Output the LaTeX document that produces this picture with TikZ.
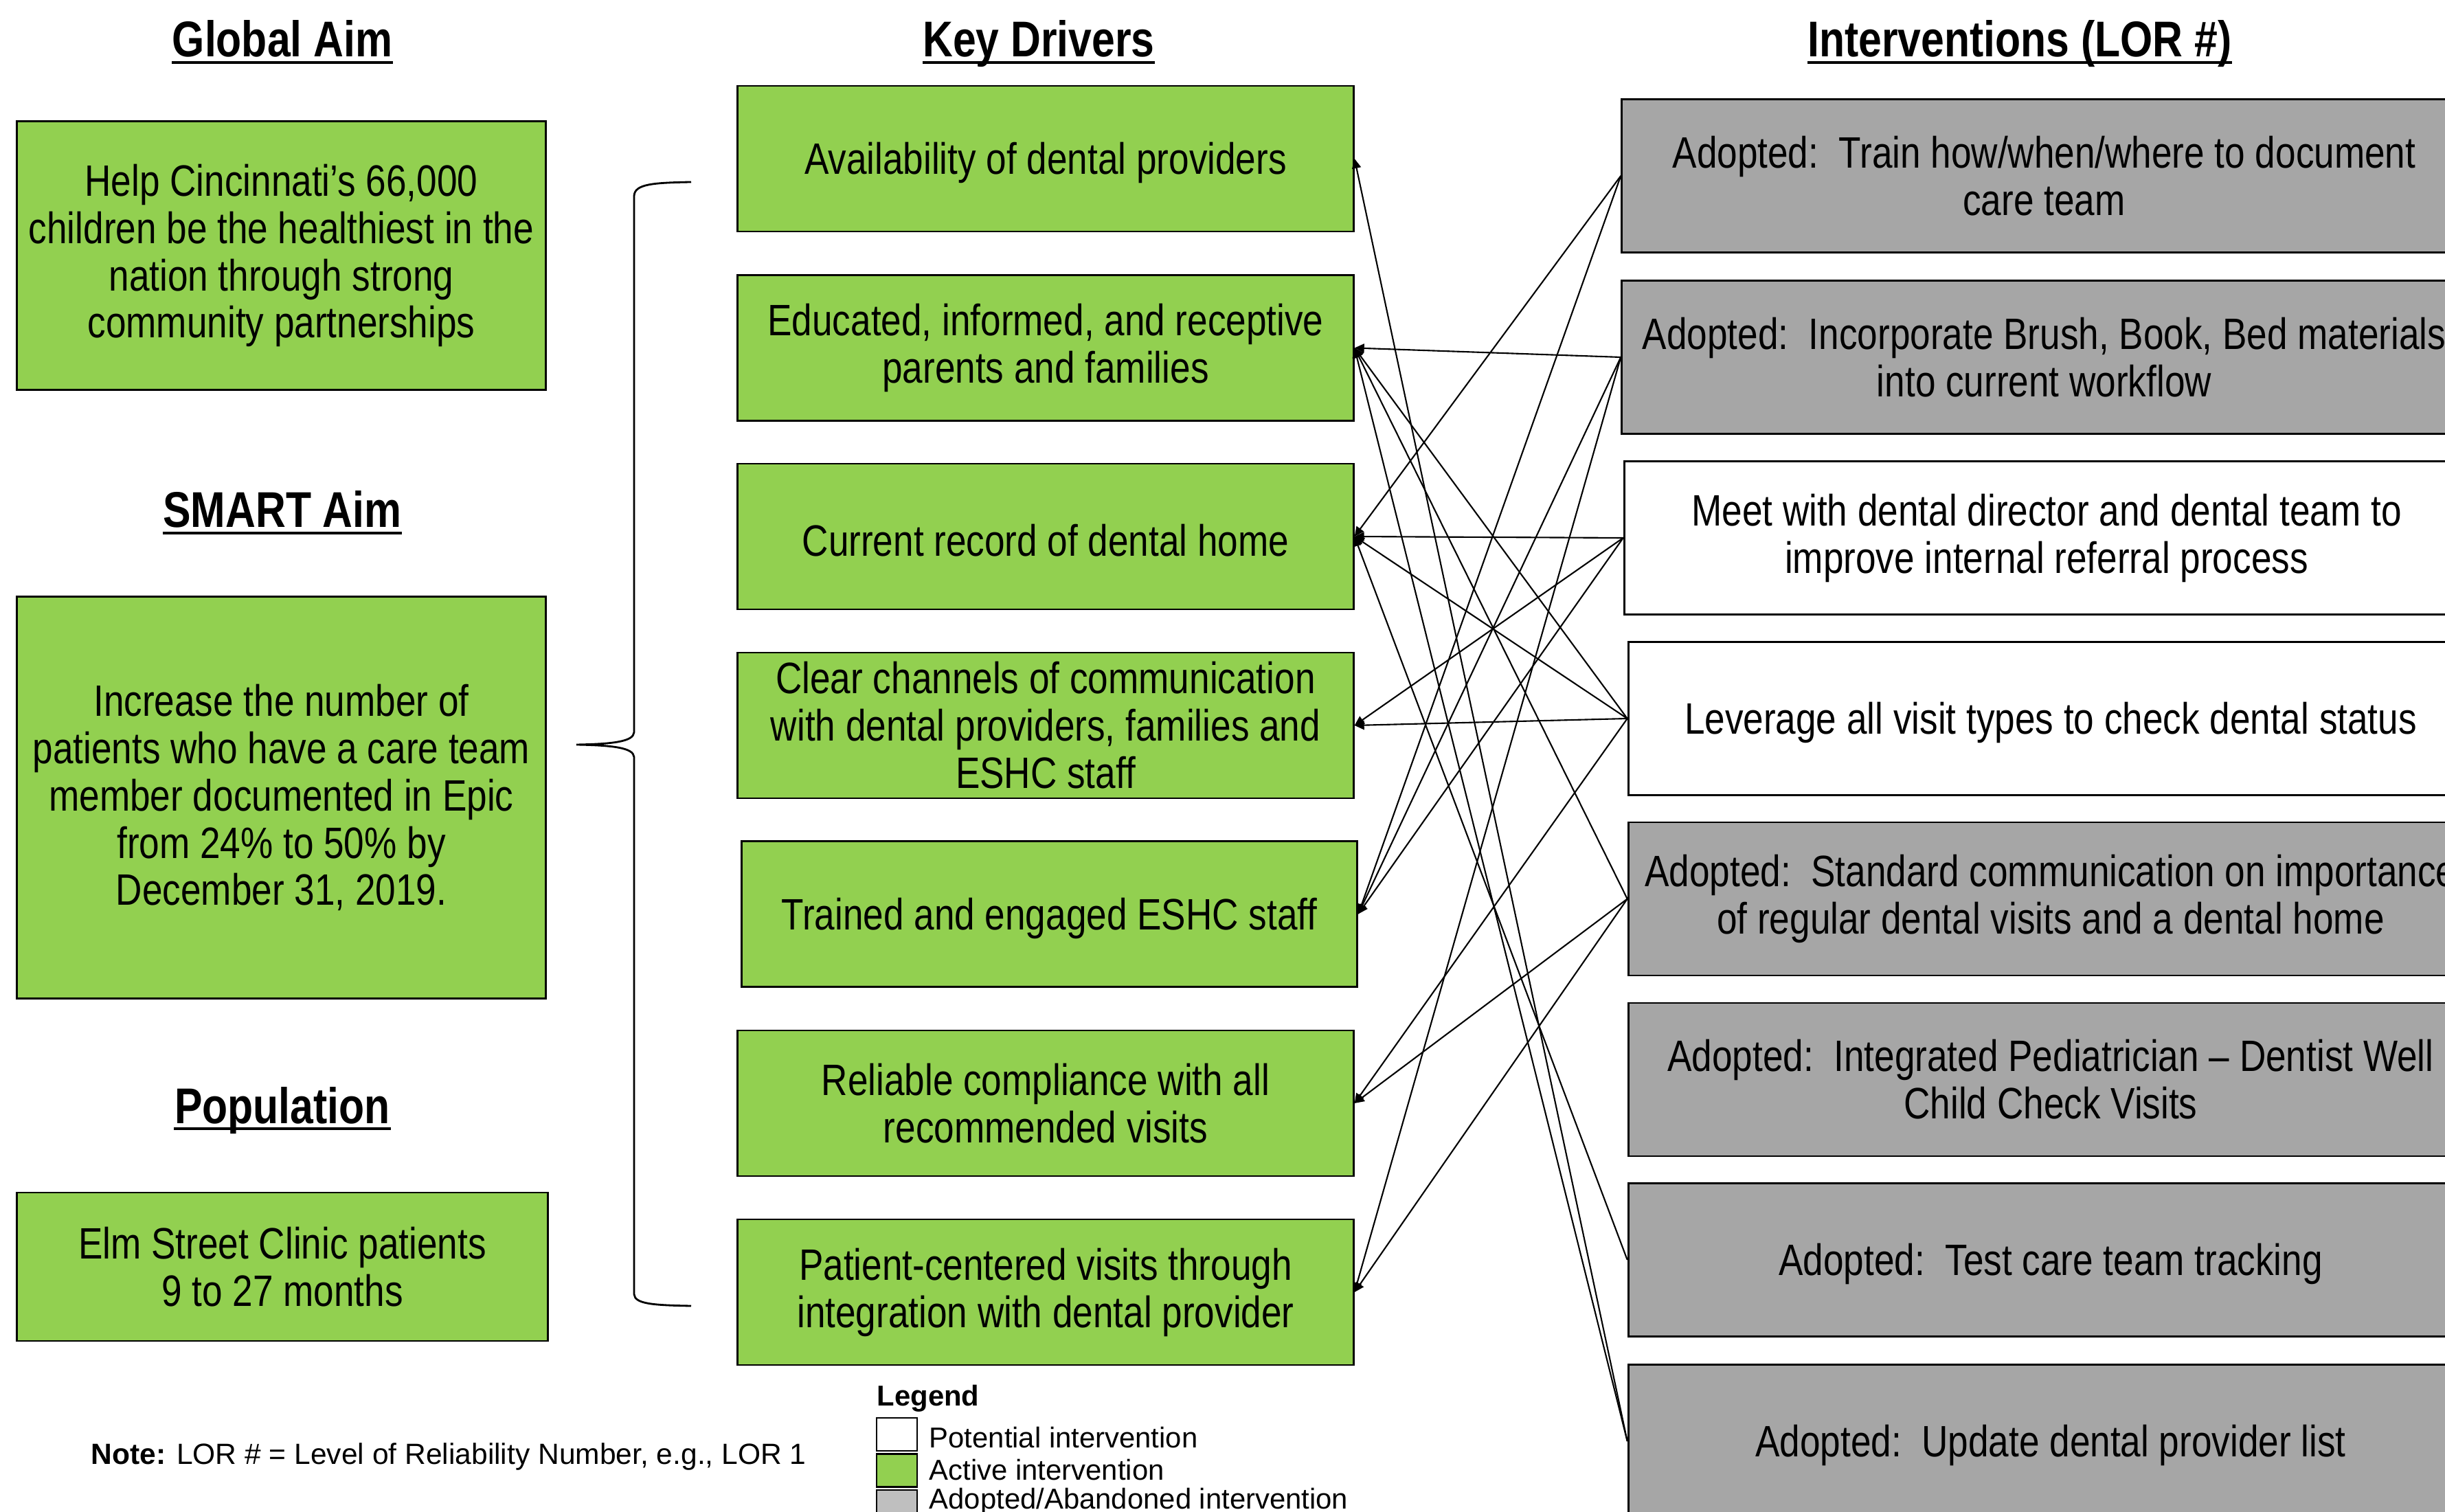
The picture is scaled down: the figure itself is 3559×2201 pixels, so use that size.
\documentclass[tikz,border=0pt]{standalone}
\usepackage{fontspec}
\setmainfont{Liberation Sans}
\newfontfamily\narrowfont{Liberation Sans}[FakeStretch=0.83]
\usetikzlibrary{arrows.meta}
\definecolor{kgreen}{HTML}{92D050}
\definecolor{kgray}{HTML}{A6A6A6}
\definecolor{lgray}{HTML}{BFBFBF}
\begin{document}
\begin{tikzpicture}[x=0.01cm,y=-0.01cm,
  box/.style={draw=black, line width=0.8pt, inner sep=0pt, align=center,
    font=\narrowfont\fontsize{18.2}{19.6}\selectfont,
    execute at begin node={\rule{0pt}{16.6pt}}},
  greenbox/.style={box, fill=kgreen},
  graybox/.style={box, fill=kgray},
  whitebox/.style={box, fill=white},
  drv/.style={greenbox, minimum width=8.96cm, minimum height=2.12cm},
  intv/.style={minimum width=12.29cm, minimum height=2.23cm},
  hdr/.style={inner sep=0pt, anchor=base, font=\narrowfont\bfseries\fontsize{20.8}{24}\selectfont},
  uline/.style={line width=1pt},
  link/.style={line width=0.6pt, -{Triangle[length=0.14cm,width=0.13cm]}},
  small/.style={inner sep=0pt, anchor=west, font=\fontsize{11.9}{14}\selectfont},
  legbox/.style={draw=black, line width=0.8pt, minimum width=0.59cm, minimum height=0.48cm, inner sep=0pt},
]
\useasboundingbox (0,0) rectangle (3559,2201);
\clip (0,0) rectangle (3559,2201);

% headers
\node[hdr] (h1) at (411,83) {Global Aim};
\node[hdr] (h2) at (1512,83) {Key Drivers};
\node[hdr] (h3) at (2940,83) {Interventions (LOR \#)};
\node[hdr] (h4) at (411,768) {SMART Aim};
\node[hdr] (h5) at (411,1635) {Population};
\foreach \h in {h1,h2,h3,h4,h5}{
  \draw[uline] ([yshift=-0.08cm]\h.base west) -- ([yshift=-0.08cm]\h.base east);
}

% left column
\node[greenbox, minimum width=7.69cm, minimum height=3.90cm] (ga) at (409.5,372)
  {Help Cincinnati’s 66,000\\children be the healthiest in the\\nation through strong\\community partnerships};
\node[greenbox, minimum width=7.69cm, minimum height=5.84cm] (sa) at (409.5,1161)
  {Increase the number of\\patients who have a care team\\member documented in Epic\\from 24\% to 50\% by\\December 31, 2019.};
\node[greenbox, minimum width=7.72cm, minimum height=2.16cm] (pop) at (411,1844)
  {Elm Street Clinic patients\\9 to 27 months};

% brace
\draw[line width=0.8pt] (1006,265) .. controls (950,266) and (924,268) .. (923,285)
  -- (923,1066) .. controls (922,1080) and (890,1083) .. (839,1084)
  .. controls (890,1085) and (922,1088) .. (923,1102)
  -- (923,1884) .. controls (924,1898) and (950,1900) .. (1006,1901);

% key drivers
\node[drv] (d1) at (1522,231) {Availability of dental providers};
\node[drv] (d2) at (1522,506.5) {Educated, informed, and receptive\\parents and families};
\node[drv] (d3) at (1522,781) {Current record of dental home};
\node[drv] (d4) at (1522,1056) {Clear channels of communication\\with dental providers, families and\\ESHC staff};
\node[drv] (d5) at (1527.5,1330.5) {Trained and engaged ESHC staff};
\node[drv] (d6) at (1522,1606) {Reliable compliance with all\\recommended visits};
\node[drv] (d7) at (1522,1881) {Patient-centered visits through\\integration with dental provider};

% interventions
\node[graybox, intv] (i1) at (2975.5,256) {Adopted:\ \ Train how/when/where to document\\care team};
\node[graybox, intv] (i2) at (2975.5,520) {Adopted:\ \ Incorporate Brush, Book, Bed materials\\into current workflow};
\node[whitebox, intv] (i3) at (2979,783) {Meet with dental director and dental team to\\improve internal referral process};
\node[whitebox, intv] (i4) at (2985,1046) {Leverage all visit types to check dental status};
\node[graybox, intv] (i5) at (2985,1308.5) {Adopted:\ \ Standard communication on importance\\of regular dental visits and a dental home};
\node[graybox, intv] (i6) at (2985,1571.5) {Adopted:\ \ Integrated Pediatrician – Dentist Well\\Child Check Visits};
\node[graybox, intv] (i7) at (2985,1834) {Adopted:\ \ Test care team tracking};
\node[graybox, intv] (i8) at (2985,2098) {Adopted:\ \ Update dental provider list};

% connectors
\draw[link] (i8.west) -- (d1.east);
\draw[link] (i2.west) -- (d2.east);
\draw[link] (i4.west) -- (d2.east);
\draw[link] (i5.west) -- (d2.east);
\draw[link] (i8.west) -- (d2.east);
\draw[link] (i1.west) -- (d3.east);
\draw[link] (i3.west) -- (d3.east);
\draw[link] (i4.west) -- (d3.east);
\draw[link] (i7.west) -- (d3.east);
\draw[link] (i3.west) -- (d4.east);
\draw[link] (i4.west) -- (d4.east);
\draw[link] (i1.west) -- (d5.east);
\draw[link] (i2.west) -- (d5.east);
\draw[link] (i3.west) -- (d5.east);
\draw[link] (i4.west) -- (d6.east);
\draw[link] (i5.west) -- (d6.east);
\draw[link] (i2.west) -- (d7.east);
\draw[link] (i5.west) -- (d7.east);

% legend
\node[small, font=\bfseries\fontsize{11.9}{14}\selectfont] (lg) at (1276,2036) {Legend};
\node[legbox, fill=white] (lw) at (1305.5,2088) {};
\node[legbox, fill=kgreen] (lgn) at (1305.5,2140.5) {};
\node[legbox, fill=lgray] (lgy) at (1305.5,2193) {};
\node[small] (tw) at (1352,2093) {Potential intervention};
\node[small] (tg) at (1352,2140) {Active intervention};
\node[small] (ty) at (1352,2186) {Adopted/Abandoned intervention};

% note
\node[small, font=\fontsize{12.1}{14}\selectfont] (note) at (132,2120) {\textbf{Note:} LOR \# = Level of Reliability Number, e.g., LOR 1};
\end{tikzpicture}
\end{document}
